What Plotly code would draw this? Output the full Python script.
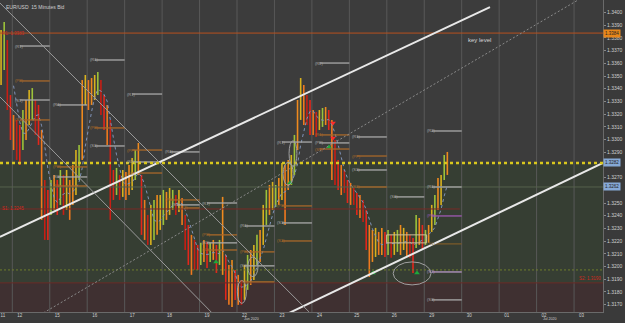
import numpy as np
import plotly.graph_objects as go

# ---------------- data ----------------
day_labels = ["12", "15", "16", "17", "18", "19", "22", "23", "24", "25", "26", "29", "30", "01", "02", "03"]
day_index = list(range(1, 17))          # trading-day index of each day separator
first_label = "11"
bar_start = 0.70                        # first bar time (trading-day units)
bar_step = 1 / 12                       # 2-hour bars

highs = [
    1.33862, 1.33925, 1.33783, 1.33350, 1.33193, 1.33154, 1.33114, 1.33232, 1.33311, 1.33390,
    1.33405, 1.33311, 1.33272, 1.33075, 1.32681, 1.32603, 1.32681, 1.32721, 1.32681, 1.32760,
    1.32721, 1.32760, 1.32681, 1.32799, 1.32917, 1.32957, 1.33468, 1.33508, 1.33468, 1.33484,
    1.33508, 1.33531, 1.33468, 1.33350, 1.33272, 1.33154, 1.32760, 1.32776, 1.32721, 1.32760,
    1.32744, 1.32799, 1.32855, 1.32917, 1.32973, 1.32721, 1.32524, 1.32406, 1.32485, 1.32524,
    1.32563, 1.32563, 1.32603, 1.32587, 1.32618, 1.32603, 1.32563, 1.32603, 1.32540, 1.32406,
    1.32327, 1.32249, 1.32209, 1.32170, 1.32186, 1.32209, 1.32193, 1.32186, 1.32209, 1.32170,
    1.32209, 1.32548, 1.32091, 1.32012, 1.32052, 1.31973, 1.31934, 1.31894, 1.32012, 1.32091,
    1.32130, 1.32170, 1.32249, 1.32288, 1.32485, 1.32603, 1.32642, 1.32666, 1.32642, 1.32697,
    1.32815, 1.32799, 1.32839, 1.32878, 1.33036, 1.33311, 1.33484, 1.33429, 1.33350, 1.33311,
    1.33232, 1.33217, 1.33232, 1.33248, 1.33256, 1.33232, 1.33154, 1.32996, 1.32839, 1.32799,
    1.32760, 1.32681, 1.32658, 1.32618, 1.32579, 1.32563, 1.32524, 1.32445, 1.32327, 1.32288,
    1.32304, 1.32272, 1.32304, 1.32272, 1.32288, 1.32249, 1.32272, 1.32288, 1.32327, 1.32304,
    1.32272, 1.32249, 1.32225, 1.32406, 1.32382, 1.32327, 1.32288, 1.32327, 1.32485, 1.32563,
    1.32697, 1.32721, 1.32878, 1.32902,
]
lows = [
    1.33429, 1.33547, 1.33232, 1.32996, 1.32917, 1.32839, 1.32799, 1.32917, 1.32996, 1.33114,
    1.33154, 1.33036, 1.32957, 1.32367, 1.32209, 1.32209, 1.32406, 1.32445, 1.32406, 1.32485,
    1.32406, 1.32445, 1.32367, 1.32485, 1.32563, 1.32681, 1.32839, 1.33272, 1.33232, 1.33272,
    1.33311, 1.33350, 1.33193, 1.33075, 1.32957, 1.32367, 1.32524, 1.32563, 1.32524, 1.32548,
    1.32524, 1.32563, 1.32603, 1.32681, 1.32721, 1.32249, 1.32209, 1.32170, 1.32170, 1.32209,
    1.32249, 1.32288, 1.32327, 1.32367, 1.32406, 1.32445, 1.32406, 1.32430, 1.32327, 1.32130,
    1.32012, 1.31934, 1.31973, 1.31973, 1.32012, 1.32036, 1.31989, 1.32036, 1.32052, 1.31949,
    1.32012, 1.31934, 1.31737, 1.31698, 1.31682, 1.31737, 1.31698, 1.31698, 1.31737, 1.31816,
    1.31855, 1.31894, 1.32012, 1.32036, 1.32170, 1.32327, 1.32406, 1.32445, 1.32469, 1.32485,
    1.32524, 1.32327, 1.32603, 1.32642, 1.32721, 1.32917, 1.33154, 1.33114, 1.33114, 1.33036,
    1.33036, 1.33020, 1.33075, 1.33099, 1.33114, 1.33075, 1.32681, 1.32642, 1.32603, 1.32563,
    1.32579, 1.32500, 1.32485, 1.32485, 1.32406, 1.32382, 1.32351, 1.32130, 1.31918, 1.32036,
    1.32075, 1.32091, 1.32091, 1.32075, 1.32091, 1.32068, 1.32091, 1.32115, 1.32091, 1.32130,
    1.32075, 1.32068, 1.31949, 1.32146, 1.32170, 1.32130, 1.32170, 1.32186, 1.32272, 1.32327,
    1.32445, 1.32485, 1.32681, 1.32721,
]

# pivot level segments (day they start, price, kind, label)
lvl_day = [1, 1, 1, 1, 2, 2, 2, 2, 3, 3, 3, 4, 4, 4, 4, 5, 5, 5, 5, 6, 6, 6, 6,
           7, 7, 7, 7, 8, 8, 8, 8, 9, 9, 9, 9, 10, 10, 10, 10, 11, 12, 12, 12, 12, 12, 12]
lvl_price = [1.33736, 1.33461, 1.33311, 1.33154, 1.33272, 1.32784, 1.32705, 1.32634,
             1.33626, 1.33091, 1.32949, 1.33358, 1.32917, 1.32823, 1.32736,
             1.32902, 1.32524, 1.32485, 1.32461, 1.32500, 1.32249, 1.32186, 1.32130,
             1.32319, 1.32115, 1.32005, 1.31879, 1.32980, 1.32477, 1.32343, 1.32201,
             1.33602, 1.33036, 1.32973, 1.32925, 1.33020, 1.32870, 1.32760, 1.32626,
             1.32548, 1.33067, 1.32626, 1.32398, 1.32178, 1.31957, 1.31737]
lvl_kind = ["g", "o", "g", "o", "g", "o", "g", "o", "g", "o", "g", "g", "o", "g", "o",
            "g", "o", "g", "o", "g", "o", "g", "o", "g", "o", "g", "o", "g", "o", "g", "o",
            "g", "o", "g", "o", "g", "o", "g", "o", "g", "g", "g", "p", "b", "l", "g"]
lvl_label = ["(R1)", "(PP)", "(S1)", "(S2)", "(R1)", "(PP)", "(S1)", "(S2)", "(R1)", "(PP)", "(S1)",
             "(R1)", "(PP)", "(S1)", "(S2)", "(R1)", "(PP)", "(S1)", "(S2)", "(R1)", "(PP)", "(S1)", "(S2)",
             "(R1)", "(PP)", "(S1)", "(S2)", "(R1)", "(PP)", "(S1)", "(S2)", "(R2)", "(R1)", "(PP)", "(S1)",
             "(R1)", "(PP)", "(S1)", "(S2)", "(S1)", "(R2)", "(R1)", "(PP)", "(S1)", "(S2)", "(S3)"]

# drawn trend lines: (day, price) anchors
trend_white = [((0.6716, 1.32233), (13.755, 1.34043)), ((8.228, 1.31611), (16.773, 1.32815))]
trend_gray = [((0.6716, 1.34074), (8.922, 1.31643)), ((0.6716, 1.33335), (6.332, 1.31635))]
trend_dotted = ((1.740, 1.31619), (16.105, 1.34098))

key_level = 1.33838
pivot_s1 = 1.32453
last_price = 1.32815
bid_price = 1.32626
support_dotted = 1.31973
zone_green_bottom = 1.31871

sell_t = [9.563, 9.563]
sell_p = [1.33130, 1.33012]
buy_t = [9.456, 10.632, 11.806, 8.415, 6.439]
buy_p = [1.32941, 1.31949, 1.31949, 1.32658, 1.32036]

# ---------------- figure ----------------
X0, X1 = 0.6716, 16.773
Y0, Y1 = 1.316417, 1.340984

t = [bar_start + i * bar_step for i in range(len(highs))]
mids = [(h + l) / 2 for h, l in zip(highs, lows)]

palettes = {"up": ["#d9b21e", "#9cc23a", "#ef8a1e"], "dn": ["#e3261b", "#f0791e", "#c81e14"]}
groups = {}
for i in range(len(t)):
    d = "up" if i == 0 or mids[i] >= mids[i - 1] else "dn"
    c = palettes[d][i % 3]
    gx, gy = groups.setdefault(c, ([], []))
    gx += [t[i], t[i], None]
    gy += [lows[i], highs[i], None]

fig = go.Figure()
for c, (gx, gy) in groups.items():
    fig.add_trace(go.Scatter(x=gx, y=gy, mode="lines", line=dict(color=c, width=1.6),
                             hoverinfo="skip", showlegend=False))

win = 5
ma = np.convolve(mids, np.ones(win) / win, mode="valid")
fig.add_trace(go.Scatter(x=t[win - 1:], y=ma, mode="lines",
                         line=dict(color="#8093b8", width=1, dash="dot"), showlegend=False))

fig.add_trace(go.Scatter(x=sell_t, y=sell_p, mode="markers",
                         marker=dict(symbol="triangle-down", size=5, color="#ff2a2a"), showlegend=False))
fig.add_trace(go.Scatter(x=buy_t, y=buy_p, mode="markers",
                         marker=dict(symbol="triangle-up", size=5, color="#1fa83a"), showlegend=False))

shapes = []
# zones
shapes.append(dict(type="rect", x0=X0, x1=X1, y0=zone_green_bottom, y1=last_price, layer="below",
                   fillcolor="#363e33", line=dict(width=0)))
shapes.append(dict(type="rect", x0=X0, x1=X1, y0=Y0, y1=zone_green_bottom, layer="below",
                   fillcolor="#3f3031", line=dict(width=0)))
# vertical separators
for d in day_index:
    shapes.append(dict(type="line", x0=d, x1=d, y0=Y0, y1=Y1, layer="below",
                       line=dict(color="#585858", width=1)))
# horizontal levels
shapes.append(dict(type="line", x0=X0, x1=X1, y0=key_level, y1=key_level,
                   line=dict(color="#b8501e", width=1)))
shapes.append(dict(type="line", x0=X0, x1=12.95, y0=pivot_s1, y1=pivot_s1,
                   line=dict(color="#7a2a25", width=1)))
shapes.append(dict(type="line", x0=X0, x1=X1, y0=bid_price, y1=bid_price,
                   line=dict(color="#56614d", width=1)))
shapes.append(dict(type="line", x0=X0, x1=X1, y0=support_dotted, y1=support_dotted,
                   line=dict(color="#6f7d2c", width=1, dash="2px,2px")))
shapes.append(dict(type="line", x0=X0, x1=X1, y0=zone_green_bottom, y1=zone_green_bottom,
                   line=dict(color="#6a2a26", width=1)))

kind_col = {"g": "#a9a9a9", "o": "#a8682a", "p": "#a05ab4", "b": "#7a5a2a", "l": "#b89ac6"}
annotations = []
prev_day, prev_p, shift = None, None, 0
min_gap = (Y1 - Y0) * 6 / 312          # ~6 px: labels closer than this are staggered
for d, p, k, lab in zip(lvl_day, lvl_price, lvl_kind, lvl_label):
    col = kind_col[k]
    if d == prev_day and abs(prev_p - p) < min_gap:
        shift += 1
    else:
        shift = 0
    prev_day, prev_p = d, p
    lx = d + 0.02 + 0.2 * shift
    shapes.append(dict(type="line", x0=lx + 0.18, x1=d + 1, y0=p, y1=p, line=dict(color=col, width=1.3)))
    annotations.append(dict(x=lx, y=p, xref="x", yref="y", text=lab, showarrow=False,
                            xanchor="left", yanchor="middle", font=dict(size=4, color=col)))

# box around consolidation
shapes.append(dict(type="rect", x0=10.995, x1=12.063, y0=1.32186, y1=1.32249,
                   line=dict(color="#cdbf98", width=1)))

# trend lines
for (a, b) in trend_white:
    shapes.append(dict(type="line", x0=a[0], y0=a[1], x1=b[0], y1=b[1],
                       line=dict(color="#e8e8e8", width=2)))
for (a, b) in trend_gray:
    shapes.append(dict(type="line", x0=a[0], y0=a[1], x1=b[0], y1=b[1],
                       line=dict(color="#9a9a9a", width=1)))
shapes.append(dict(type="line", x0=trend_dotted[0][0], y0=trend_dotted[0][1],
                   x1=trend_dotted[1][0], y1=trend_dotted[1][1],
                   line=dict(color="#8a8a8a", width=1, dash="2px,2px")))
# last price dotted line
shapes.append(dict(type="line", x0=X0, x1=X1, y0=last_price, y1=last_price,
                   line=dict(color="#d9c81e", width=2.5, dash="3px,3px")))

# ellipses
ell = [(11.17, 12.18, 1.31855, 1.32036), (8.23, 8.50, 1.32640, 1.32820),
       (8.39, 8.60, 1.32790, 1.32990), (7.01, 7.25, 1.31710, 1.31890), (7.29, 7.56, 1.31920, 1.32075)]
for x0, x1, y0, y1 in ell:
    shapes.append(dict(type="circle", x0=x0, x1=x1, y0=y0, y1=y1,
                       line=dict(color="#a0a0a0", width=1)))

txt = "#cfcfcf"
annotations += [
    dict(x=0.006, y=0.995, xref="paper", yref="paper", text="EUR/USD  15 Minutes Bid", showarrow=False,
         xanchor="left", yanchor="top", font=dict(size=5, color=txt)),
    dict(x=13.115, y=1.33783, xref="x", yref="y", text="key level", showarrow=False,
         xanchor="left", yanchor="middle", font=dict(size=6, color="#d6d6d6")),
    dict(x=X0, y=key_level, xref="x", yref="y", text="R1: 1.3383", showarrow=False,
         xanchor="left", yanchor="middle", font=dict(size=4.5, color="#d02a20")),
    dict(x=X0, y=pivot_s1, xref="x", yref="y", text="S1: 1.3245", showarrow=False,
         xanchor="left", yanchor="middle", font=dict(size=4.5, color="#d02a20")),
    dict(x=X1, y=1.31902, xref="x", yref="y", text="S2: 1.3190", showarrow=False,
         xanchor="right", yanchor="middle", font=dict(size=4.5, color="#d02a20")),
    dict(x=1.0, y=key_level, xref="paper", yref="y", text="1.3384", showarrow=False,
         xanchor="left", yanchor="middle", bgcolor="#e8861a", font=dict(size=4.5, color="#222")),
    dict(x=1.0, y=last_price, xref="paper", yref="y", text="1.3282", showarrow=False,
         xanchor="left", yanchor="middle", bgcolor="#86a9d6", font=dict(size=4.5, color="#222")),
    dict(x=1.0, y=bid_price, xref="paper", yref="y", text="1.3262", showarrow=False,
         xanchor="left", yanchor="middle", bgcolor="#86a9d6", font=dict(size=4.5, color="#222")),
    dict(x=7.4, y=-0.0353, xref="x", yref="paper", text="Jun 2020", showarrow=False,
         xanchor="center", yanchor="bottom", font=dict(size=3.6, color=txt)),
    dict(x=15.35, y=-0.0353, xref="x", yref="paper", text="Jul 2020", showarrow=False,
         xanchor="center", yanchor="bottom", font=dict(size=3.6, color=txt)),
]

yt = [round(1.3170 + 0.001 * k, 4) for k in range(24)]
yt = [v for v in yt if v not in (1.328, 1.326)]   # hidden behind the price boxes
fig.update_layout(
    width=625, height=323, margin=dict(l=0, r=22, t=0, b=11),
    paper_bgcolor="#3a3a3a", plot_bgcolor="#3c3c3c",
    font=dict(family="Liberation Sans, Arial, sans-serif", color=txt),
    shapes=shapes, annotations=annotations, showlegend=False,
    xaxis=dict(range=[X0, X1], showgrid=False, zeroline=False,
               tickvals=[0.75] + [d + 0.2 for d in day_index], ticktext=[first_label] + day_labels,
               tickfont=dict(size=4.5, color=txt), ticks="", ticklabelstandoff=-1,
               showline=True, linecolor="#6a6a6a"),
    yaxis=dict(range=[Y0, Y1], side="right", showgrid=False, zeroline=False,
               tickvals=yt, ticktext=[f"{v:.4f}" for v in yt],
               tickfont=dict(size=5, color=txt), ticks="outside", ticklen=2, tickcolor="#888",
               showline=True, linecolor="#6a6a6a"),
)
fig.write_html("out.html")
